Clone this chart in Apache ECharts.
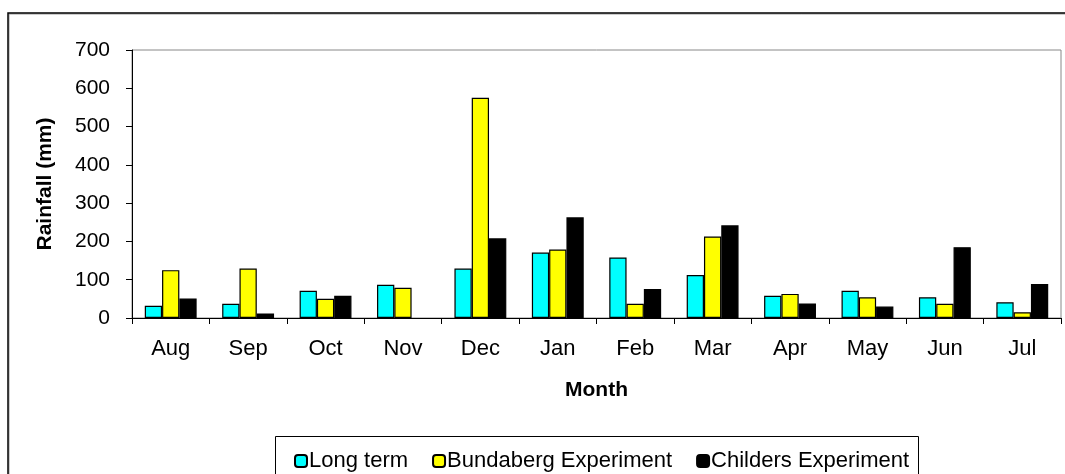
<!DOCTYPE html>
<html>
<head>
<meta charset="utf-8">
<script src="https://cdn.jsdelivr.net/npm/echarts@6/dist/echarts.min.js"></script>
<style>
html,body{margin:0;padding:0;background:#fff;}
#chart{width:1065px;height:474px;}
</style>
</head>
<body>
<div id="chart"></div>
<script>
const months = ['Aug','Sep','Oct','Nov','Dec','Jan','Feb','Mar','Apr','May','Jun','Jul'];
const longTerm = [32, 37, 71, 87, 129, 171, 158, 112, 58, 71, 54, 41];
const bundaberg = [125, 129, 50, 79, 575, 179, 37, 213, 63, 54, 37, 15];
const childers = [51, 12, 58, null, 208, 263, 76, 242, 38, 30, 185, 89];
const yTicks = [0, 100, 200, 300, 400, 500, 600, 700];

const FONT = '"Liberation Sans", Arial, sans-serif';
const chart = echarts.init(document.getElementById('chart'), null, {renderer: 'canvas'});

function barSeries(name, data, color) {
  return {
    name: name,
    type: 'bar',
    data: data,
    barGap: '0%',
    barCategoryGap: '33%',
    itemStyle: {color: color, borderColor: '#000', borderWidth: 1.2},
    emphasis: {disabled: true}
  };
}

chart.setOption({
  animation: false,
  textStyle: {fontFamily: FONT},
  graphic: [
    {type: 'rect', shape: {x: 9, y: 14, width: 1100, height: 500}, style: {fill: 'none', stroke: '#999', lineWidth: 1}, z: -1},
    {type: 'rect', shape: {x: 8, y: 13, width: 1100, height: 500}, style: {fill: 'none', stroke: '#000', lineWidth: 1.5}, z: 0},
    {type: 'rect', shape: {x: 275.5, y: 436.5, width: 643, height: 60}, style: {fill: '#fff', stroke: '#000', lineWidth: 1}, z: 0}
  ],
  grid: {left: 132, right: 4, top: 50, bottom: 156, show: true, borderColor: '#888', borderWidth: 1, backgroundColor: 'transparent'},
  legend: {
    top: 445,
    left: 289,
    itemWidth: 12,
    itemHeight: 12,
    itemGap: 24,
    textStyle: {fontFamily: FONT, fontSize: 22, color: '#000', padding: [0, 0, 0, -3]},
    data: ['Long term', 'Bundaberg Experiment', 'Childers Experiment'],
    z: 5
  },
  xAxis: {
    type: 'category',
    data: months,
    name: 'Month',
    nameLocation: 'middle',
    nameGap: 62,
    nameTextStyle: {fontFamily: FONT, fontSize: 21, fontWeight: 'bold', color: '#000'},
    axisLine: {lineStyle: {color: '#000', width: 1}},
    axisTick: {show: true, inside: false, length: 6, lineStyle: {color: '#000'}},
    axisLabel: {fontFamily: FONT, fontSize: 22, color: '#000', margin: 20},
    splitLine: {show: false}
  },
  yAxis: {
    type: 'value',
    min: 0,
    max: 700,
    interval: 100,
    name: 'Rainfall (mm)',
    nameLocation: 'middle',
    nameGap: 76,
    nameRotate: 90,
    nameTextStyle: {fontFamily: FONT, fontSize: 21, fontWeight: 'bold', color: '#000'},
    axisLine: {show: true, lineStyle: {color: '#000', width: 1}},
    axisTick: {show: true, inside: false, length: 6, lineStyle: {color: '#000'}},
    axisLabel: {fontFamily: FONT, fontSize: 21, color: '#000', margin: 22,
      formatter: function (v) { return yTicks.indexOf(v) >= 0 ? String(v) : ''; }},
    splitLine: {show: false}
  },
  series: [
    barSeries('Long term', longTerm, '#00FFFF'),
    barSeries('Bundaberg Experiment', bundaberg, '#FFFF00'),
    barSeries('Childers Experiment', childers, '#000000')
  ]
});
</script>
</body>
</html>
